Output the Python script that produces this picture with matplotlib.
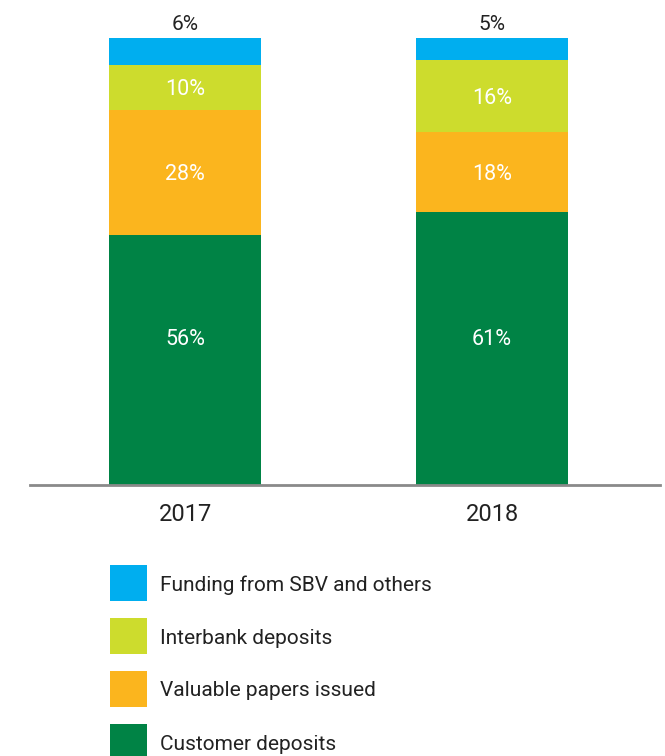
import matplotlib
matplotlib.use("Agg")
import matplotlib.pyplot as plt
from matplotlib.patches import Rectangle

plt.rcParams['font.family'] = ['Roboto', 'DejaVu Sans']

years = ['2017', '2018']
series_names = ['Customer deposits', 'Valuable papers issued', 'Interbank deposits', 'Funding from SBV and others']
customer = [56, 61]
papers = [28, 18]
interbank = [10, 16]
sbv = [6, 5]
colors = ['#008345', '#FBB51E', '#CDDC2D', '#00AEEF']

W, H = 665, 756
fig = plt.figure(figsize=(W / 100, H / 100), dpi=100)

# main axes: from x=30..660 px, y=485 (bottom) .. 0 (top)
ax = fig.add_axes([30 / W, 1 - 485 / H, 630 / W, 485 / H])
x = [0, 1]
width = 0.495
data = [customer, papers, interbank, sbv]
bottoms = [0, 0]
for i, (vals, col) in enumerate(zip(data, colors)):
    ax.bar(x, vals, width=width, bottom=bottoms, color=col, edgecolor='none', zorder=2)
    for xi, v, b in zip(x, vals, bottoms):
        if i == 3:
            ax.text(xi, b + v + 1.8, f'{v}%', ha='center', va='baseline', color='#222222', fontsize=15)
        elif i == 0:
            ax.text(xi, 33, f'{v}%', ha='center', va='center_baseline', color='white', fontsize=15.5)
        else:
            ax.text(xi, b + v / 2, f'{v}%', ha='center', va='center_baseline', color='white', fontsize=15.5)
    bottoms = [b + v for b, v in zip(bottoms, vals)]

ax.set_ylim(0, 100 * 485 / 447)
ax.set_xlim(-0.505, 1.547)
for s in ['top', 'right', 'left']:
    ax.spines[s].set_visible(False)
ax.spines['bottom'].set_color('#8a8a8a')
ax.spines['bottom'].set_linewidth(2)
ax.set_yticks([])
ax.set_xticks(x)
ax.set_xticklabels(years, fontsize=17, color='#222222')
ax.tick_params(axis='x', length=0, pad=13)

# legend axes in pixel coordinates
lax = fig.add_axes([0, 0, 1, 1])
lax.set_xlim(0, W)
lax.set_ylim(H, 0)
lax.axis('off')
leg_items = list(zip(series_names, colors))[::-1]
for k, (name, col) in enumerate(leg_items):
    cy = 583 + 53 * k
    lax.add_patch(Rectangle((110, cy - 18), 37, 36, color=col, lw=0))
    lax.text(160, cy, name, ha='left', va='center_baseline', fontsize=15, color='#222222')

fig.savefig('out.png', dpi=100)
